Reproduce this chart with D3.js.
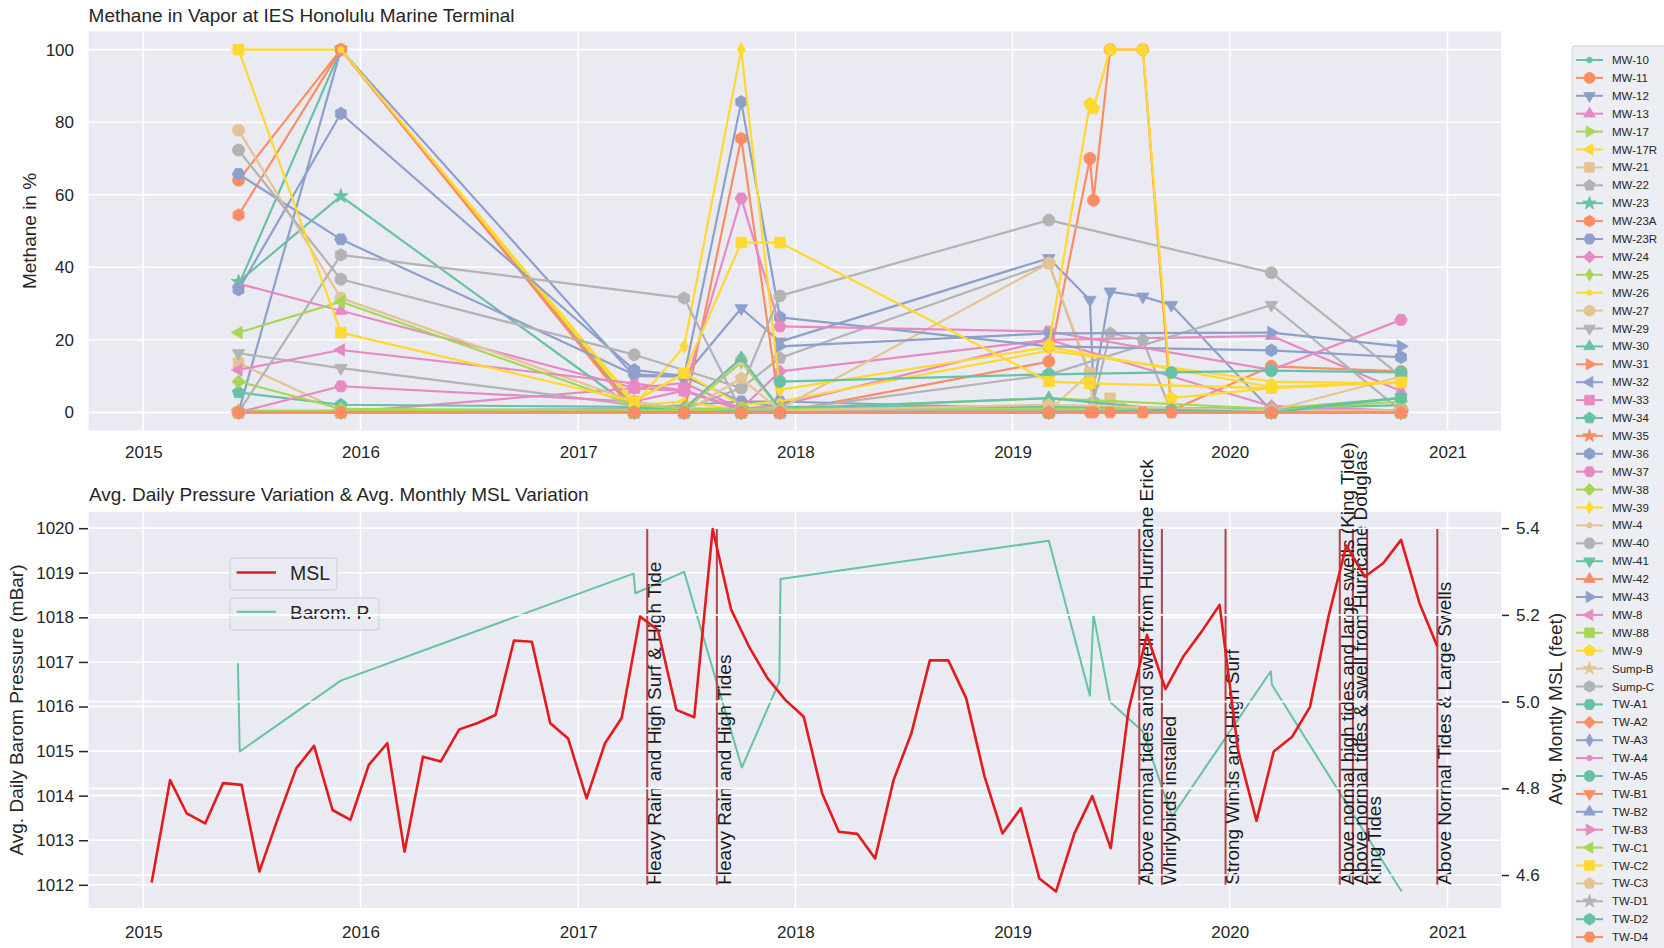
<!DOCTYPE html>
<html>
<head>
<meta charset="utf-8">
<script src="https://cdn.jsdelivr.net/npm/d3@7"></script>
<style>
  html, body { margin: 0; padding: 0; background: #ffffff; }
  svg { display: block; font-family: "Liberation Sans", Arial, sans-serif; }
</style>
</head>
<body>
<svg id="chart" width="1664" height="948"></svg>
<script>
// ---------- Methane sampling events ----------
const sampleDates = ["2015-06-10", "2015-11-29", "2017-04-05", "2017-06-28", "2017-10-02", "2017-12-06",
  "2019-03-03", "2019-05-11", "2019-05-17", "2019-06-14", "2019-08-08", "2019-09-25", "2020-03-11", "2020-10-15"];

const wellNames = ["MW-10", "MW-11", "MW-12", "MW-13", "MW-17", "MW-17R", "MW-21", "MW-22", "MW-23", "MW-23A",
  "MW-23R", "MW-24", "MW-25", "MW-26", "MW-27", "MW-29", "MW-30", "MW-31", "MW-32", "MW-33",
  "MW-34", "MW-35", "MW-36", "MW-37", "MW-38", "MW-39", "MW-4", "MW-40", "MW-41", "MW-42",
  "MW-43", "MW-8", "MW-88", "MW-9", "Sump-B", "Sump-C", "TW-A1", "TW-A2", "TW-A3", "TW-A4",
  "TW-A5", "TW-B1", "TW-B2", "TW-B3", "TW-C1", "TW-C2", "TW-C3", "TW-D1", "TW-D2", "TW-D4"];

// methane in % per well, one value per sampling event (null = not sampled)
const MW_10  = [35, 100, 1, 2, 3, 1.5, 1.5, null, null, null, null, null, 1, 2];
const MW_11  = [64, 100, 0.5, 0, 0, 0, 14, 70, 58.5, 100, 100, 0.5, 12.7, 11.3];
const MW_12  = [0, 100, 10, 9.9, 28.7, 19.5, 42.5, 31, 6.7, 33.3, 31.9, 29.6, 0.5, 0];
const MW_13  = [35.5, 28, 6.7, 8.1, 1, 2, 20, null, null, null, null, null, 21.1, 5.8];
const MW_17  = [0, 0, 0, 0, 0, 0, 0, null, null, null, null, null, 0, 0];
const MW_17R = [100, 100, 2, 3, 0.5, 1, 1, null, null, null, null, null, 0.5, 0.5];
const MW_21  = [13.6, 0.5, 0, 0, 0, 0, 0.5, 10.8, 0.5, 3.9, 0, null, 0.5, 0.5];
const MW_22  = [0, 0.5, 1, 1, 6.7, 15, 41.1, 10, 3, 21.8, 20, 0, 0.5, null];
const MW_23  = [36, 59.6, 1, 1, 1, 1, 1, null, null, null, null, null, 0.5, 0.5];
const MW_23A = [54.4, 100, 0, 0, 75.5, 0.5, 0, null, null, null, null, null, 0, 0];
const MW_23R = [65.7, 47.7, 10.4, 9.9, 3, 3, 1, null, null, null, null, null, 0.5, 0.5];
const MW_24  = [0, 0, 6.7, 6, 1, 11.3, 20, null, null, null, null, null, 1.7, 0.5];
const MW_25  = [0.5, 0.5, 0.5, 0.5, 13.8, 1, 3.9, null, null, null, null, null, 1, 3.9];
const MW_26  = [null, 100, 3, 10.8, 2, 3, 17, null, null, null, null, null, 8.5, 8];
const MW_27  = [77.8, 31.5, 3, 1, 14.5, 1, 41.1, 10.8, 1, null, null, null, 0.5, 9.9];
const MW_29  = [16.3, 12.2, 2, 1, 0.5, 0.5, 10.4, null, null, null, null, null, 29.6, 0.5];
const MW_30  = [null, null, 0.5, 1, 15, 1, 3.9, null, null, null, null, 0.7, 0.5, 4];
const MW_31  = [null, null, 0, 0, 0, 0, 0, null, null, null, null, null, 0, 0];
const MW_32  = [0, 0, 0, 0, 0, 0, 0, null, null, null, null, null, 0, 0];
const MW_33  = [null, null, 6.7, 6, 0.5, 0.5, 0.5, null, null, null, null, null, 0.5, 0.5];
const MW_34  = [5.5, 2.1, 1.5, 1, 0.5, 0.5, 0.5, null, null, null, null, null, 0.5, 0.5];
const MW_35  = [0, 0, 0, 0, 0, 0, 0, null, null, null, null, null, 0, 0];
const MW_36  = [33.8, 82.4, 11.7, 10, 85.6, 26.2, 18.2, null, null, null, null, null, 17.1, 15.2];
const MW_37  = [0, 7.2, 3, 6, 59, 23.7, 22.3, null, null, null, null, null, 11.7, 25.5];
const MW_38  = [8.5, 1, 0.5, 0.5, 1, 0.5, 0.5, null, null, null, null, null, 0.5, 3];
const MW_39  = [null, null, 2, 18.2, 100, 6.2, 18, null, null, null, null, null, 7, 8.3];
const MW_4   = [0, 0, 0, 0, 0, 0, 0, null, null, null, null, null, 0, 0];
const MW_40  = [72.3, 36.7, 15.9, null, 6.7, 32.1, 53, null, null, null, null, null, 38.5, 9.9];
const MW_41  = [0, 0, 0, 0, 0, 0, 0, null, null, null, null, null, 0, 0];
const MW_42  = [0, 0, 0, 0, 0, 0, 0, null, null, null, null, null, 0, 0];
const MW_43  = [null, null, null, null, null, 18.2, 21.8, null, null, null, null, null, 22, 18.2];
const MW_8   = [11.7, 17.2, 8, 6, 1, 1, 1, null, null, null, null, null, 0.5, 0.5];
const MW_88  = [0, 0, 0, 0, 0, 0, 0, null, null, null, null, null, 0, 0];
const MW_9   = [null, null, null, null, null, null, 18.5, 85.1, 83.8, 100, 100, 3.9, 6.7, 8.3];
const SUMP_B = [0, 0, 0, 0, 0, 0, 0, null, null, null, null, null, 0, 0];
const SUMP_C = [0, 43.4, null, 31.5, 0.5, 0.5, 0.5, null, null, null, null, null, 0.5, 0.5];
const TW_A1  = [null, null, 0, 0, 0, 0, 0, null, null, null, null, null, 0, 0];
const TW_A2  = [0, 0, 0, 0, 0, 0, 0, null, null, null, null, null, 0, 0];
const TW_A3  = [null, null, 0, 0, 0, 0, 0, null, null, null, null, null, 0, 0];
const TW_A4  = [null, null, 0, 0, 0, 0, 0, null, null, null, null, null, 0, 0];
const TW_A5  = [null, null, null, null, null, 8.5, 10.5, null, null, null, null, 11, 11.5, 11];
const TW_B1  = [null, null, 0, 0, 0, 0, 0, null, null, null, null, null, 0, 0];
const TW_B2  = [null, null, 0, 0, 0, 0, 0, null, null, null, null, null, 0, 0];
const TW_B3  = [null, null, 0, 0, 0, 0, 0, null, null, null, null, null, 0, 0];
const TW_C1  = [22, 30.5, 2, 1, 1, 1, 1, null, null, null, null, null, 0.5, 0.5];
const TW_C2  = [100, 22, 3, 10.8, 46.8, 46.8, 8.5, 8, null, null, null, null, 6.7, 8.3];
const TW_C3  = [null, null, 0, 0, 9.4, 0.5, 2.1, null, null, null, null, null, 0.5, 0.5];
const TW_D1  = [null, null, 0, 0, 0, 0, 0, null, null, null, null, null, 0, 0];
const TW_D2  = [null, null, 0, 0, 0, 0, 0, null, null, null, null, 0.7, 0, 4];
const TW_D4  = [0, 0, 0, 0, 0, 0, 0, 0, 0, 0, 0, 0, 0, 0];

const wellValues = [MW_10, MW_11, MW_12, MW_13, MW_17, MW_17R, MW_21, MW_22, MW_23, MW_23A,
  MW_23R, MW_24, MW_25, MW_26, MW_27, MW_29, MW_30, MW_31, MW_32, MW_33,
  MW_34, MW_35, MW_36, MW_37, MW_38, MW_39, MW_4, MW_40, MW_41, MW_42,
  MW_43, MW_8, MW_88, MW_9, SUMP_B, SUMP_C, TW_A1, TW_A2, TW_A3, TW_A4,
  TW_A5, TW_B1, TW_B2, TW_B3, TW_C1, TW_C2, TW_C3, TW_D1, TW_D2, TW_D4];

// ---------- Barometric pressure (mBar) ----------
const baromDates = ["2015-06-09", "2015-06-12", "2015-11-29", "2017-04-04", "2017-04-07", "2017-06-28",
  "2017-10-03", "2017-12-05", "2017-12-07", "2019-03-03", "2019-05-11", "2019-05-17", "2019-06-14",
  "2019-08-08", "2019-09-26", "2020-03-10", "2020-03-12", "2020-10-16"];
const baromValues = [1016.97, 1014.99, 1016.58, 1018.98, 1018.54, 1019.02, 1014.63, 1016.56, 1018.86,
  1019.72, 1016.24, 1018.06, 1016.10, 1015.44, 1013.53, 1016.79, 1016.49, 1011.85];

// ---------- Monthly mean sea level (feet) ----------
const mslMonths = [
  "2015-01", "2015-02", "2015-03", "2015-04", "2015-05", "2015-06", "2015-07", "2015-08", "2015-09", "2015-10", "2015-11", "2015-12",
  "2016-01", "2016-02", "2016-03", "2016-04", "2016-05", "2016-06", "2016-07", "2016-08", "2016-09", "2016-10", "2016-11", "2016-12",
  "2017-01", "2017-02", "2017-03", "2017-04", "2017-05", "2017-06", "2017-07", "2017-08", "2017-09", "2017-10", "2017-11", "2017-12",
  "2018-01", "2018-02", "2018-03", "2018-04", "2018-05", "2018-06", "2018-07", "2018-08", "2018-09", "2018-10", "2018-11", "2018-12",
  "2019-01", "2019-02", "2019-03", "2019-04", "2019-05", "2019-06", "2019-07", "2019-08", "2019-09", "2019-10", "2019-11", "2019-12",
  "2020-01", "2020-02", "2020-03", "2020-04", "2020-05", "2020-06", "2020-07", "2020-08", "2020-09", "2020-10", "2020-11", "2020-12"];
const mslValues = [
  4.583, 4.819, 4.742, 4.719, 4.812, 4.808, 4.608, 4.730, 4.846, 4.898, 4.750, 4.727,
  4.854, 4.904, 4.654, 4.873, 4.862, 4.936, 4.950, 4.969, 5.141, 5.138, 4.950, 4.915,
  4.777, 4.904, 4.962, 5.196, 5.165, 4.981, 4.964, 5.398, 5.212, 5.127, 5.054, 5.004,
  4.965, 4.788, 4.700, 4.695, 4.638, 4.819, 4.927, 5.095, 5.095, 5.008, 4.827, 4.696,
  4.754, 4.592, 4.562, 4.696, 4.782, 4.662, 4.981, 5.154, 5.029, 5.104, 5.162, 5.223,
  4.888, 4.725, 4.885, 4.919, 4.988, 5.196, 5.360, 5.288, 5.319, 5.373, 5.227, 5.127];

// ---------- Weather / site events ----------
const eventDates = ["2017-04-27", "2017-08-22", "2019-08-02", "2019-09-09", "2019-12-25",
  "2020-07-04", "2020-07-26", "2020-08-19", "2020-12-15"];
const eventLabels = ["Heavy Rain and High Surf & High Tide", "Heavy Rain and High Tides",
  "Above normal tides and swell from Hurricane Erick", "Whirlybirds installed", "Strong Winds and High Surf",
  "Above normal high tides and large swells (King Tide)", "Above normal tides & swell from Hurricane Douglas",
  "King Tides", "Above Normal Tides & Large Swells"];

// ---------- Ticks ----------
const yearTicks = [2015, 2016, 2017, 2018, 2019, 2020, 2021];
const methaneTicks = [0, 20, 40, 60, 80, 100];
const pressureTicks = [1012, 1013, 1014, 1015, 1016, 1017, 1018, 1019, 1020];
const mslTicks = [4.6, 4.8, 5.0, 5.2, 5.4];

// ---------- Drawing ----------
const svg = d3.select("#chart");
const parseDay = d3.utcParse("%Y-%m-%d");
const parseMonth = s => { const d = d3.utcParse("%Y-%m")(s); return new Date(Date.UTC(d.getUTCFullYear(), d.getUTCMonth(), 15)); };

const BG = "#eaeaf2", TXT = "#262626";
const set2 = ["#66c2a5", "#fc8d62", "#8da0cb", "#e78ac3", "#a6d854", "#ffd92f", "#e5c494", "#b3b3b3"];
const markerCycle = [".", "o", "v", "^", ">", "<", "s", "p", "*", "h", "H", "D", "d"];
const wellColor = i => set2[(i % 20) % 8];
const wellMarker = i => markerCycle[i % 13];

const L = 88.6, R = 1501;
const top1 = 31.5, bot1 = 430.5;
const top2 = 511.7, bot2 = 908;

const x = d3.scaleUtc().domain([new Date(Date.UTC(2014, 9, 1)), new Date(Date.UTC(2021, 3, 1))]).range([L, R]);
const yMeth = d3.scaleLinear().domain([-5, 105]).range([bot1, top1]);
const yPres = d3.scaleLinear().domain([1011.48, 1020.37]).range([bot2, top2]);
const yMsl = d3.scaleLinear().domain([4.524, 5.438]).range([bot2, top2]);
const yearDates = yearTicks.map(y => new Date(Date.UTC(y, 0, 1)));

function markerPath(m, r) {
  const P = pts => "M" + pts.map(p => p[0].toFixed(2) + "," + p[1].toFixed(2)).join("L") + "Z";
  const ngon = (n, rad, start) => d3.range(n).map(i => {
    const a = start + i * 2 * Math.PI / n; return [rad * Math.cos(a), rad * Math.sin(a)];
  });
  const circ = rr => `M${-rr},0A${rr},${rr} 0 1,0 ${rr},0A${rr},${rr} 0 1,0 ${-rr},0Z`;
  switch (m) {
    case ".": return circ(r * 0.5);
    case "o": return circ(r);
    case "^": return P(ngon(3, r * 1.2, -Math.PI / 2));
    case "v": return P(ngon(3, r * 1.2, Math.PI / 2));
    case ">": return P(ngon(3, r * 1.2, 0));
    case "<": return P(ngon(3, r * 1.2, Math.PI));
    case "s": { const h = r * 0.88; return P([[-h, -h], [h, -h], [h, h], [-h, h]]); }
    case "p": return P(ngon(5, r * 1.08, -Math.PI / 2));
    case "*": return P(d3.range(10).map(i => {
      const a = -Math.PI / 2 + i * Math.PI / 5; const rr = i % 2 ? r * 0.5 : r * 1.28;
      return [rr * Math.cos(a), rr * Math.sin(a)];
    }));
    case "h": return P(ngon(6, r * 1.05, -Math.PI / 2));
    case "H": return P(ngon(6, r * 1.05, 0));
    case "D": return P(ngon(4, r * 1.1, -Math.PI / 2));
    case "d": return P([[0, -r * 1.15], [r * 0.68, 0], [0, r * 1.15], [-r * 0.68, 0]]);
  }
}

function styleAxis(g, size) {
  g.select(".domain").remove();
  g.selectAll("text").attr("fill", TXT).style("font-size", size + "px")
    .style("font-family", "\"Liberation Sans\", Arial, sans-serif");
}

// ===== Upper panel: methane =====
svg.append("rect").attr("x", L).attr("y", top1).attr("width", R - L).attr("height", bot1 - top1).attr("fill", BG);
const g1 = svg.append("g");
g1.selectAll("line.vgrid").data(yearDates).join("line")
  .attr("x1", d => x(d)).attr("x2", d => x(d)).attr("y1", top1).attr("y2", bot1)
  .attr("stroke", "#fff").attr("stroke-width", 1.6);
g1.selectAll("line.hgrid").data(methaneTicks).join("line")
  .attr("x1", L).attr("x2", R).attr("y1", d => yMeth(d)).attr("y2", d => yMeth(d))
  .attr("stroke", "#fff").attr("stroke-width", 1.6);

const sDates = sampleDates.map(parseDay);
const wellLine = d3.line().x(d => x(d.date)).y(d => yMeth(d.v));
wellValues.forEach((vals, i) => {
  const pts = vals.map((v, k) => ({ date: sDates[k], v })).filter(d => d.v !== null);
  const c = wellColor(i), m = wellMarker(i);
  const gs = g1.append("g");
  gs.append("path").attr("d", wellLine(pts)).attr("fill", "none")
    .attr("stroke", c).attr("stroke-width", 2.2).attr("stroke-linejoin", "round");
  gs.selectAll("path.mk").data(pts).join("path").attr("class", "mk")
    .attr("transform", d => `translate(${x(d.date)},${yMeth(d.v)})`)
    .attr("d", markerPath(m, 6)).attr("fill", c).attr("stroke", c).attr("stroke-width", 0.8);
});

svg.append("g").attr("transform", `translate(0,${bot1})`)
  .call(d3.axisBottom(x).tickValues(yearDates).tickFormat(d3.utcFormat("%Y")).tickSize(0).tickPadding(15.5))
  .call(g => styleAxis(g, 17));
svg.append("g").attr("transform", `translate(${L},0)`)
  .call(d3.axisLeft(yMeth).tickValues(methaneTicks).tickSize(0).tickPadding(14.6))
  .call(g => styleAxis(g, 17));

svg.append("text").attr("x", L).attr("y", 22).attr("fill", TXT).style("font-size", "19px")
  .text("Methane in Vapor at IES Honolulu Marine Terminal");
svg.append("text").attr("transform", "translate(35.5,231) rotate(-90)").attr("text-anchor", "middle")
  .attr("fill", TXT).style("font-size", "19px").text("Methane in %");

// ===== Lower panel: pressure & sea level =====
svg.append("rect").attr("x", L).attr("y", top2).attr("width", R - L).attr("height", bot2 - top2).attr("fill", BG);
const g2 = svg.append("g");
g2.selectAll("line.vgrid").data(yearDates).join("line")
  .attr("x1", d => x(d)).attr("x2", d => x(d)).attr("y1", top2).attr("y2", bot2)
  .attr("stroke", "#fff").attr("stroke-width", 1.6);
g2.selectAll("line.pgrid").data(pressureTicks).join("line")
  .attr("x1", L).attr("x2", R).attr("y1", d => yPres(d)).attr("y2", d => yPres(d))
  .attr("stroke", "#fff").attr("stroke-width", 1.6);

// barometric pressure line
const baromPts = baromDates.map((d, i) => ({ date: parseDay(d), v: baromValues[i] }));
g2.append("path").attr("d", d3.line().x(d => x(d.date)).y(d => yPres(d.v))(baromPts))
  .attr("fill", "none").attr("stroke", "#66c2a5").attr("stroke-width", 2).attr("stroke-linejoin", "round");

// event markers spanning 1012-1020 mBar with rotated captions
const events = eventDates.map((d, i) => ({ date: parseDay(d), label: eventLabels[i] }));
g2.selectAll("line.evt").data(events).join("line")
  .attr("x1", d => x(d.date)).attr("x2", d => x(d.date))
  .attr("y1", yPres(1012)).attr("y2", yPres(1020))
  .attr("stroke", "#b3404b").attr("stroke-width", 2);
g2.selectAll("text.evt").data(events).join("text")
  .attr("transform", d => `translate(${x(d.date) + 13.8},${yPres(1012)}) rotate(-90)`)
  .attr("fill", "#1a1a1a").style("font-size", "19px").text(d => d.label);

// legend of the pressure axis
const lgB = svg.append("g").attr("transform", "translate(230,598)");
lgB.append("rect").attr("width", 149).attr("height", 32).attr("rx", 3)
  .attr("fill", BG).attr("fill-opacity", 0.85).attr("stroke", "#cfcfd6");
lgB.append("line").attr("x1", 6.6).attr("x2", 46).attr("y1", 13.7).attr("y2", 13.7)
  .attr("stroke", "#66c2a5").attr("stroke-width", 2);
lgB.append("text").attr("x", 60).attr("y", 20.5).attr("fill", TXT).style("font-size", "19px").text("Barom. P.");

// sea-level axis grid, line and legend drawn above
const g3 = svg.append("g");
g3.selectAll("line.mgrid").data(mslTicks).join("line")
  .attr("x1", L).attr("x2", R).attr("y1", d => yMsl(d)).attr("y2", d => yMsl(d))
  .attr("stroke", "#fff").attr("stroke-width", 1.6);
const mslPts = mslMonths.map((m, i) => ({ date: parseMonth(m), v: mslValues[i] }));
g3.append("path").attr("d", d3.line().x(d => x(d.date)).y(d => yMsl(d.v))(mslPts))
  .attr("fill", "none").attr("stroke", "#e41a1c").attr("stroke-width", 2.6).attr("stroke-linejoin", "round");

const lgM = svg.append("g").attr("transform", "translate(230,558)");
lgM.append("rect").attr("width", 107).attr("height", 32).attr("rx", 3)
  .attr("fill", BG).attr("fill-opacity", 0.85).attr("stroke", "#cfcfd6");
lgM.append("line").attr("x1", 6.6).attr("x2", 46).attr("y1", 14.5).attr("y2", 14.5)
  .attr("stroke", "#e41a1c").attr("stroke-width", 2.6);
lgM.append("text").attr("x", 60).attr("y", 22).attr("fill", TXT).style("font-size", "19.5px").text("MSL");

// axes of the lower panel
svg.append("g").attr("transform", `translate(0,${bot2})`)
  .call(d3.axisBottom(x).tickValues(yearDates).tickFormat(d3.utcFormat("%Y")).tickSize(0).tickPadding(18))
  .call(g => styleAxis(g, 17));
svg.append("g").attr("transform", `translate(88,0)`)
  .call(d3.axisLeft(yPres).tickValues(pressureTicks).tickFormat(d3.format("d")).tickSize(9).tickPadding(5))
  .call(g => styleAxis(g, 17))
  .call(g => g.selectAll("line").attr("stroke", TXT).attr("stroke-width", 1.5));
svg.append("g").attr("transform", `translate(${R + 1},0)`)
  .call(d3.axisRight(yMsl).tickValues(mslTicks).tickFormat(d3.format(".1f")).tickSize(7).tickPadding(7))
  .call(g => styleAxis(g, 17))
  .call(g => g.selectAll("line").attr("stroke", TXT).attr("stroke-width", 1.5));

svg.append("text").attr("x", 89).attr("y", 501).attr("fill", TXT).style("font-size", "19px")
  .text("Avg. Daily Pressure Variation & Avg. Monthly MSL Variation");
svg.append("text").attr("transform", "translate(23,710) rotate(-90)").attr("text-anchor", "middle")
  .attr("fill", TXT).style("font-size", "19px").text("Avg. Daily Barom Pressure (mBar)");
svg.append("text").attr("transform", "translate(1562,709) rotate(-90)").attr("text-anchor", "middle")
  .attr("fill", TXT).style("font-size", "19px").text("Avg. Montly MSL (feet)");

// ===== Well legend =====
const lg = svg.append("g").attr("transform", "translate(1572,46)");
lg.append("rect").attr("width", 120).attr("height", 920).attr("rx", 3)
  .attr("fill", BG).attr("fill-opacity", 0.85).attr("stroke", "#cfcfd6");
wellNames.forEach((name, i) => {
  const yy = 14 + i * 17.9;
  const c = wellColor(i);
  lg.append("line").attr("x1", 4).attr("x2", 31).attr("y1", yy).attr("y2", yy)
    .attr("stroke", c).attr("stroke-width", 2);
  lg.append("path").attr("transform", `translate(17.5,${yy})`).attr("d", markerPath(wellMarker(i), 5.5))
    .attr("fill", c).attr("stroke", c).attr("stroke-width", 0.8);
  lg.append("text").attr("x", 40).attr("y", yy + 4).attr("fill", TXT).style("font-size", "11.5px").text(name);
});
</script>
</body>
</html>
